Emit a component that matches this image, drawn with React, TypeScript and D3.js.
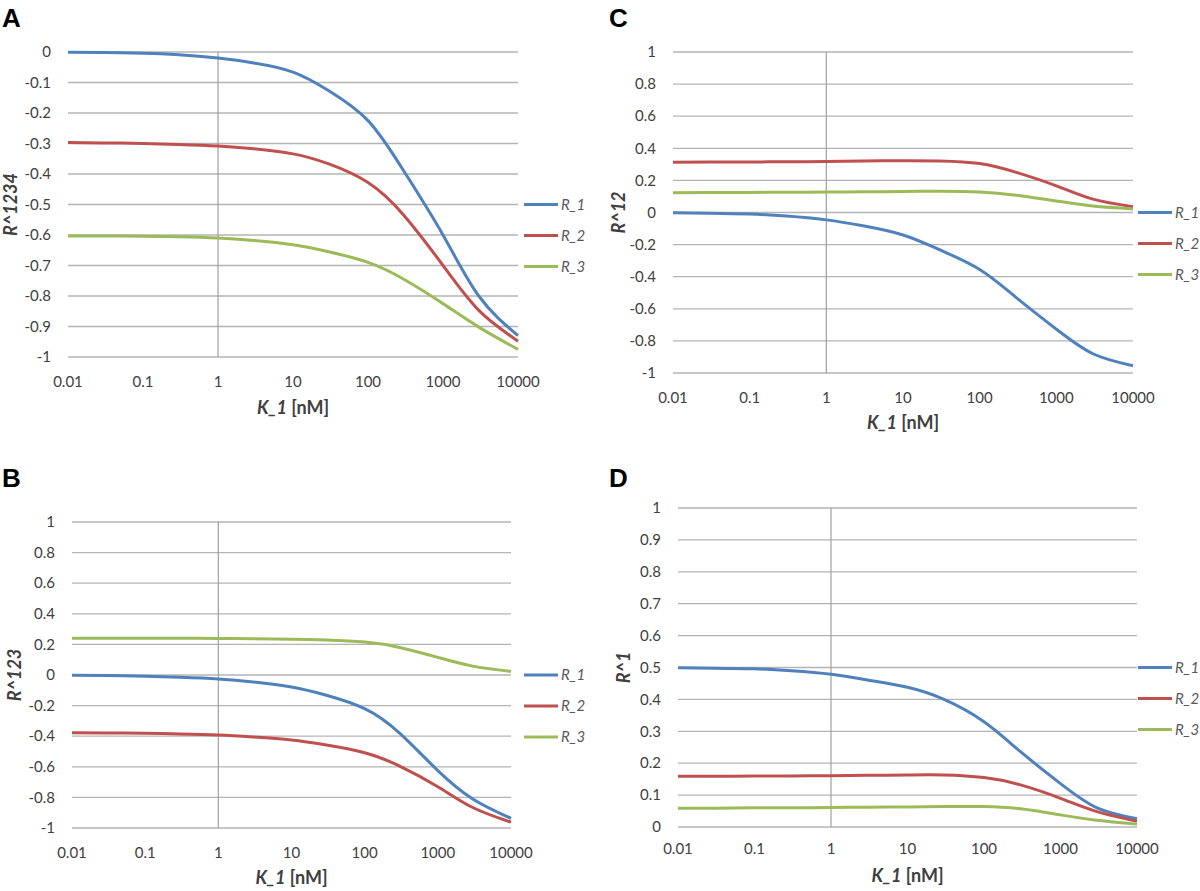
import React from "react";
import * as d3 from "d3";

// ---------- data ----------
const kValues = [0.01, 0.03, 0.1, 0.3, 1, 3, 10, 30, 100, 300, 1000, 3000, 10000];
const xTicks = [0.01, 0.1, 1, 10, 100, 1000, 10000];
const seriesNames = ["R_1", "R_2", "R_3"];
const seriesColors = ["#4F81BD", "#C0504D", "#9BBB59"];

// Panel A: R^1234
const a_R1 = [-0.001, -0.002, -0.004, -0.009, -0.02, -0.036, -0.066, -0.127, -0.225, -0.39, -0.6, -0.8, -0.93];
const a_R2 = [-0.297, -0.298, -0.3, -0.303, -0.308, -0.317, -0.334, -0.367, -0.428, -0.535, -0.7, -0.847, -0.948];
const a_R3 = [-0.603, -0.603, -0.604, -0.606, -0.61, -0.618, -0.632, -0.655, -0.69, -0.745, -0.825, -0.902, -0.975];

// Panel B: R^123
const b_R1 = [-0.002, -0.004, -0.008, -0.015, -0.026, -0.045, -0.078, -0.132, -0.22, -0.38, -0.625, -0.81, -0.937];
const b_R2 = [-0.378, -0.379, -0.381, -0.385, -0.392, -0.405, -0.425, -0.458, -0.508, -0.595, -0.73, -0.866, -0.962];
const b_R3 = [0.241, 0.241, 0.24, 0.24, 0.239, 0.237, 0.234, 0.228, 0.215, 0.18, 0.115, 0.058, 0.024];

// Panel C: R^12
const c_R1 = [-0.002, -0.005, -0.01, -0.022, -0.046, -0.083, -0.14, -0.232, -0.355, -0.53, -0.727, -0.88, -0.955];
const c_R2 = [0.313, 0.314, 0.315, 0.316, 0.318, 0.321, 0.323, 0.321, 0.305, 0.25, 0.166, 0.083, 0.036];
const c_R3 = [0.123, 0.124, 0.125, 0.126, 0.127, 0.129, 0.131, 0.132, 0.128, 0.108, 0.072, 0.04, 0.022];

// Panel D: R^1
const d_R1 = [0.499, 0.498, 0.496, 0.49, 0.479, 0.461, 0.438, 0.4, 0.33, 0.236, 0.136, 0.06, 0.026];
const d_R2 = [0.159, 0.159, 0.16, 0.16, 0.161, 0.162, 0.163, 0.163, 0.155, 0.132, 0.09, 0.048, 0.018];
const d_R3 = [0.059, 0.059, 0.06, 0.06, 0.061, 0.062, 0.063, 0.064, 0.064, 0.057, 0.038, 0.021, 0.009];

const ticksA = [0, -0.1, -0.2, -0.3, -0.4, -0.5, -0.6, -0.7, -0.8, -0.9, -1];
const ticksBC = [1, 0.8, 0.6, 0.4, 0.2, 0, -0.2, -0.4, -0.6, -0.8, -1];
const ticksD = [1, 0.9, 0.8, 0.7, 0.6, 0.5, 0.4, 0.3, 0.2, 0.1, 0];

// ---------- layout ----------
type PanelCfg = {
  letter: string;
  yLabel: string;
  series: number[][];
  yDomain: [number, number];
  yTicks: number[];
  x0: number; x1: number; yTop: number; yBot: number;
  letterX: number; letterY: number;
  yLabelX: number;
  tickY: number; titleY: number;
  legX: number;
};

const panels: PanelCfg[] = [
  { letter: "A", yLabel: "R^1234", series: [a_R1, a_R2, a_R3], yDomain: [-1, 0], yTicks: ticksA,
    x0: 68, x1: 518, yTop: 52, yBot: 357, letterX: 2, letterY: 27, yLabelX: 17, tickY: 387, titleY: 414, legX: 524 },
  { letter: "C", yLabel: "R^12", series: [c_R1, c_R2, c_R3], yDomain: [-1, 1], yTicks: ticksBC,
    x0: 673, x1: 1133, yTop: 52, yBot: 373, letterX: 609, letterY: 27, yLabelX: 625, tickY: 403, titleY: 429, legX: 1138 },
  { letter: "B", yLabel: "R^123", series: [b_R1, b_R2, b_R3], yDomain: [-1, 1], yTicks: ticksBC,
    x0: 72, x1: 511, yTop: 522, yBot: 828, letterX: 2, letterY: 487, yLabelX: 21, tickY: 858, titleY: 884, legX: 524 },
  { letter: "D", yLabel: "R^1", series: [d_R1, d_R2, d_R3], yDomain: [0, 1], yTicks: ticksD,
    x0: 678, x1: 1137, yTop: 508, yBot: 827, letterX: 609, letterY: 487, yLabelX: 630, tickY: 854, titleY: 882, legX: 1138 },
];

const FONT = "Lato, 'Open Sans', sans-serif";

function Panel({ p }: { p: PanelCfg }) {
  const x = d3.scaleLog().domain([0.01, 10000]).range([p.x0, p.x1]);
  const y = d3.scaleLinear().domain(p.yDomain).range([p.yBot, p.yTop]);
  const line = d3
    .line<number>()
    .x((_, i) => x(kValues[i]))
    .y((v) => y(v))
    .curve(d3.curveNatural);
  const cy = (p.yTop + p.yBot) / 2;
  return (
    <g>
      <text x={p.letterX} y={p.letterY} fontFamily="'Liberation Sans', Arial, sans-serif" fontWeight="bold" fontSize={26} fill="#000">
        {p.letter}
      </text>
      {p.yTicks.map((t) => (
        <g key={t}>
          <line x1={p.x0} x2={p.x1} y1={y(t)} y2={y(t)} stroke="#b4b4b4" strokeWidth={1.3} />
          <text x={p.x0 - 17} y={y(t)} dy="0.35em" textAnchor="end" fontFamily={FONT} fontSize={15} fill="#404040">
            {String(t)}
          </text>
        </g>
      ))}
      <line x1={x(1)} x2={x(1)} y1={p.yTop} y2={p.yBot} stroke="#a0a0a0" strokeWidth={1.2} />
      {xTicks.map((t) => (
        <text key={t} x={x(t)} y={p.tickY} textAnchor="middle" fontFamily={FONT} fontSize={15} fill="#404040">
          {String(t)}
        </text>
      ))}
      <text x={(p.x0 + p.x1) / 2} y={p.titleY} textAnchor="middle" fontFamily={FONT} fontSize={18} fontWeight="bold" fill="#404040">
        <tspan fontStyle="italic">K_1</tspan>
        <tspan> [nM]</tspan>
      </text>
      <text
        transform={`translate(${p.yLabelX},${cy}) rotate(-90)`}
        textAnchor="middle"
        fontFamily={FONT}
        fontSize={18}
        fontWeight="bold"
        fontStyle="italic"
        fill="#404040"
      >
        {p.yLabel}
      </text>
      {p.series.map((s, i) => (
        <path key={i} d={line(s) || ""} fill="none" stroke={seriesColors[i]} strokeWidth={3} />
      ))}
      {seriesNames.map((n, i) => (
        <g key={n}>
          <line x1={p.legX} x2={p.legX + 34} y1={cy + i * 31} y2={cy + i * 31} stroke={seriesColors[i]} strokeWidth={3} />
          <text x={p.legX + 37} y={cy + i * 31} dy="0.35em" fontFamily={FONT} fontSize={15} fontStyle="italic" fill="#595959">
            {n}
          </text>
        </g>
      ))}
    </g>
  );
}

export default function App() {
  return (
    <div style={{ position: "absolute", left: 0, top: 0 }}>
      <svg width={1200} height={891} style={{ display: "block", background: "#fff" }}>
        <rect width={1200} height={891} fill="#fff" />
        {panels.map((p) => (
          <Panel key={p.letter} p={p} />
        ))}
      </svg>
    </div>
  );
}
